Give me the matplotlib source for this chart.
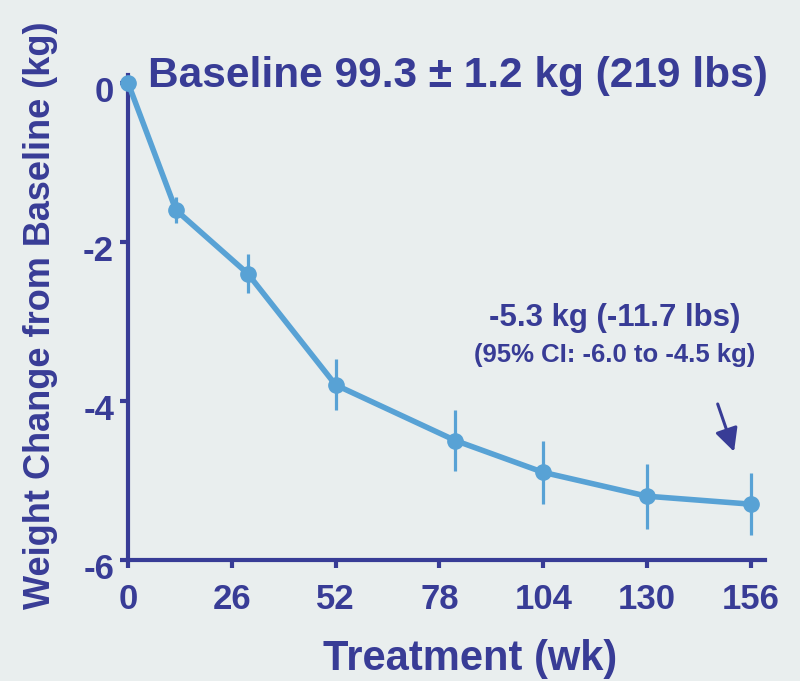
import matplotlib.pyplot as plt
from matplotlib.transforms import ScaledTranslation

# weight change vs treatment week
weeks = [0, 12, 30, 52, 82, 104, 130, 156]
change = [0.0, -1.6, -2.4, -3.8, -4.5, -4.9, -5.2, -5.3]
err = [0.0, 0.16, 0.25, 0.32, 0.38, 0.40, 0.41, 0.39]

x_ticks = [0, 26, 52, 78, 104, 130, 156]
y_ticks = [0, -2, -4, -6]

NAVY = "#383C96"
LINE = "#58A2D5"
BG = "#E9EEEE"

plt.rcParams["font.family"] = ["Liberation Sans", "DejaVu Sans"]
plt.rcParams["font.weight"] = "bold"

fig = plt.figure(figsize=(8, 6.81), dpi=100, facecolor=BG)
ax = fig.add_axes([0.16, 0.178, 0.796, 0.712], facecolor=BG)

ax.errorbar(weeks, change, yerr=err, color=LINE, lw=4, marker="o", ms=11,
            elinewidth=2.3, capsize=0, clip_on=False, zorder=3)

ax.set_xlim(0, 159.5)
ax.set_ylim(-6, 0.1)
ax.set_xticks(x_ticks)
ax.set_yticks(y_ticks)
ax.set_yticklabels([str(v) for v in y_ticks])

for s in ["top", "right"]:
    ax.spines[s].set_visible(False)
for s in ["left", "bottom"]:
    ax.spines[s].set_color(NAVY)
    ax.spines[s].set_linewidth(3)
ax.tick_params(colors=NAVY, width=3, length=6, labelsize=25)
ax.tick_params(axis="x", pad=10.5)
ax.tick_params(axis="y", pad=4)
shift = ScaledTranslation(0, -6 / 100, fig.dpi_scale_trans)
for lab in ax.get_yticklabels():
    lab.set_transform(lab.get_transform() + shift)
for lab in ax.get_xticklabels() + ax.get_yticklabels():
    lab.set_fontweight("bold")

ax.set_xlabel("Treatment (wk)", fontsize=30, fontweight="bold", color=NAVY)
ax.xaxis.label.set_va("center")
ax.xaxis.set_label_coords(0.538, -0.205)
ax.set_ylabel("Weight Change from Baseline (kg)", fontsize=26, fontweight="bold", color=NAVY)
ax.yaxis.label.set_va("center")
ax.yaxis.set_label_coords(-0.137, 0.504)

fig.text(0.5725, 0.888, "Baseline 99.3 \u00b1 1.2 kg (219 lbs)", fontsize=30.5,
         fontweight="bold", color=NAVY, ha="center", va="center")

ax.text(122, -2.96, "-5.3 kg (-11.7 lbs)", fontsize=22.5, fontweight="bold",
        color=NAVY, ha="center", va="center")
ax.text(122, -3.43, "(95% CI: -6.0 to -4.5 kg)", fontsize=18.5, fontweight="bold",
        color=NAVY, ha="center", va="center")
ax.annotate("", xy=(151.8, -4.64), xytext=(147.7, -4.04),
            arrowprops=dict(arrowstyle="-|>,head_length=0.7,head_width=0.35",
                            mutation_scale=20, color=NAVY, lw=2.2,
                            shrinkA=0, shrinkB=0))

fig.savefig("out.png", dpi=100, facecolor=BG)
